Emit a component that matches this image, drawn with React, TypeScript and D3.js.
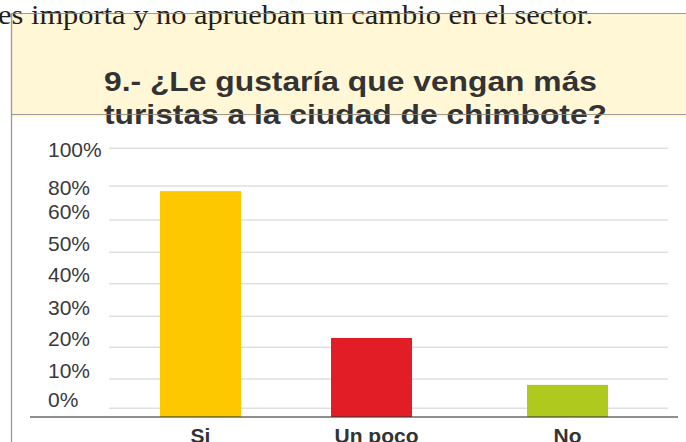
import React from 'react';
import * as d3 from 'd3';

// Survey answers (percent of respondents)
const categories = ['Si', 'Un poco', 'No'];
const values = [77, 23, 8];
const barColors = ['#fdc800', '#e31d25', '#afc91f'];

// Y axis ticks as printed (note: no 70% tick in the source)
const tickValues = [0, 10, 20, 30, 40, 50, 60, 80, 100];
const tickLabels = tickValues.map(v => `${v}%`);

const introText = 'es importa y no aprueban un cambio en el sector.';
const titleLines = ['9.- ¿Le gustaría que vengan más', 'turistas a la ciudad de chimbote?'];

const W = 686;
const H = 442;

const App: React.FC = () => {
  // the scanned axis is uneven, so the scale is piecewise over the printed ticks
  const y = d3
    .scaleLinear()
    .domain(tickValues)
    .range([408.3, 379, 347.3, 316.3, 283.7, 252.3, 220, 186, 148.3]);

  // bar centres are not evenly spaced either
  const x = d3
    .scaleLinear()
    .domain(d3.range(categories.length))
    .range([200.5, 371.5, 567.5]);

  const barWidth = 81;
  const baseY = 417;
  const sans = '"Liberation Sans", Arial, sans-serif';

  return (
    <svg
      width={W}
      height={H}
      viewBox={`0 0 ${W} ${H}`}
      style={{ position: 'absolute', left: 0, top: 0, background: '#fff' }}
    >
      {/* page header strip */}
      <rect x={12} y={14} width={W - 12} height={103} fill="#fff7d6" />
      <text
        x={-2}
        y={23.5}
        fontFamily='"Liberation Serif", "Times New Roman", serif'
        fontSize={28}
        fill="#1e1e1e"
        textLength={595}
        lengthAdjust="spacingAndGlyphs"
      >
        {introText}
      </text>
      <line x1={12} x2={W} y1={13.5} y2={13.5} stroke="#8a8a8a" strokeWidth={1.2} opacity={0.85} />
      <line x1={11.5} x2={11.5} y1={13} y2={H} stroke="#9a9a9a" strokeWidth={1.3} />

      {/* title */}
      {titleLines.map((t, i) => (
        <text
          key={t}
          x={104}
          y={91 + i * 32.5}
          fontFamily={sans}
          fontWeight="bold"
          fontSize={28}
          fill="#333"
          textLength={i === 0 ? 493 : 503}
          lengthAdjust="spacingAndGlyphs"
        >
          {t}
        </text>
      ))}
      <line x1={12} x2={W} y1={114.5} y2={114.5} stroke="#8a8a8a" strokeWidth={1.2} opacity={0.85} />

      {/* gridlines */}
      {tickValues.map(v => (
        <line key={`g${v}`} x1={109} x2={668} y1={y(v)} y2={y(v)} stroke="#dfdfdf" strokeWidth={1.4} />
      ))}

      {/* tick labels, left aligned */}
      {tickValues.map((v, i) => (
        <text
          key={`t${v}`}
          x={48}
          y={y(v) + (v >= 80 ? 8.5 : -1.5)}
          fontFamily={sans}
          fontSize={21}
          fill="#3a3a3a"
        >
          {tickLabels[i]}
        </text>
      ))}

      {/* bars */}
      {values.map((v, i) => (
        <rect
          key={categories[i]}
          x={x(i) - barWidth / 2}
          y={y(v)}
          width={barWidth}
          height={baseY - y(v)}
          fill={barColors[i]}
        />
      ))}

      {/* category axis */}
      <line x1={30} x2={678} y1={baseY} y2={baseY} stroke="#333" strokeOpacity={0.55} strokeWidth={2} />
      {categories.map((c, i) => (
        <text
          key={c}
          x={x(i) + (i === 1 ? 5 : 0)}
          y={442.5}
          textAnchor="middle"
          fontFamily={sans}
          fontWeight="bold"
          fontSize={21}
          fill="#333"
        >
          {c}
        </text>
      ))}
    </svg>
  );
};

export default App;
